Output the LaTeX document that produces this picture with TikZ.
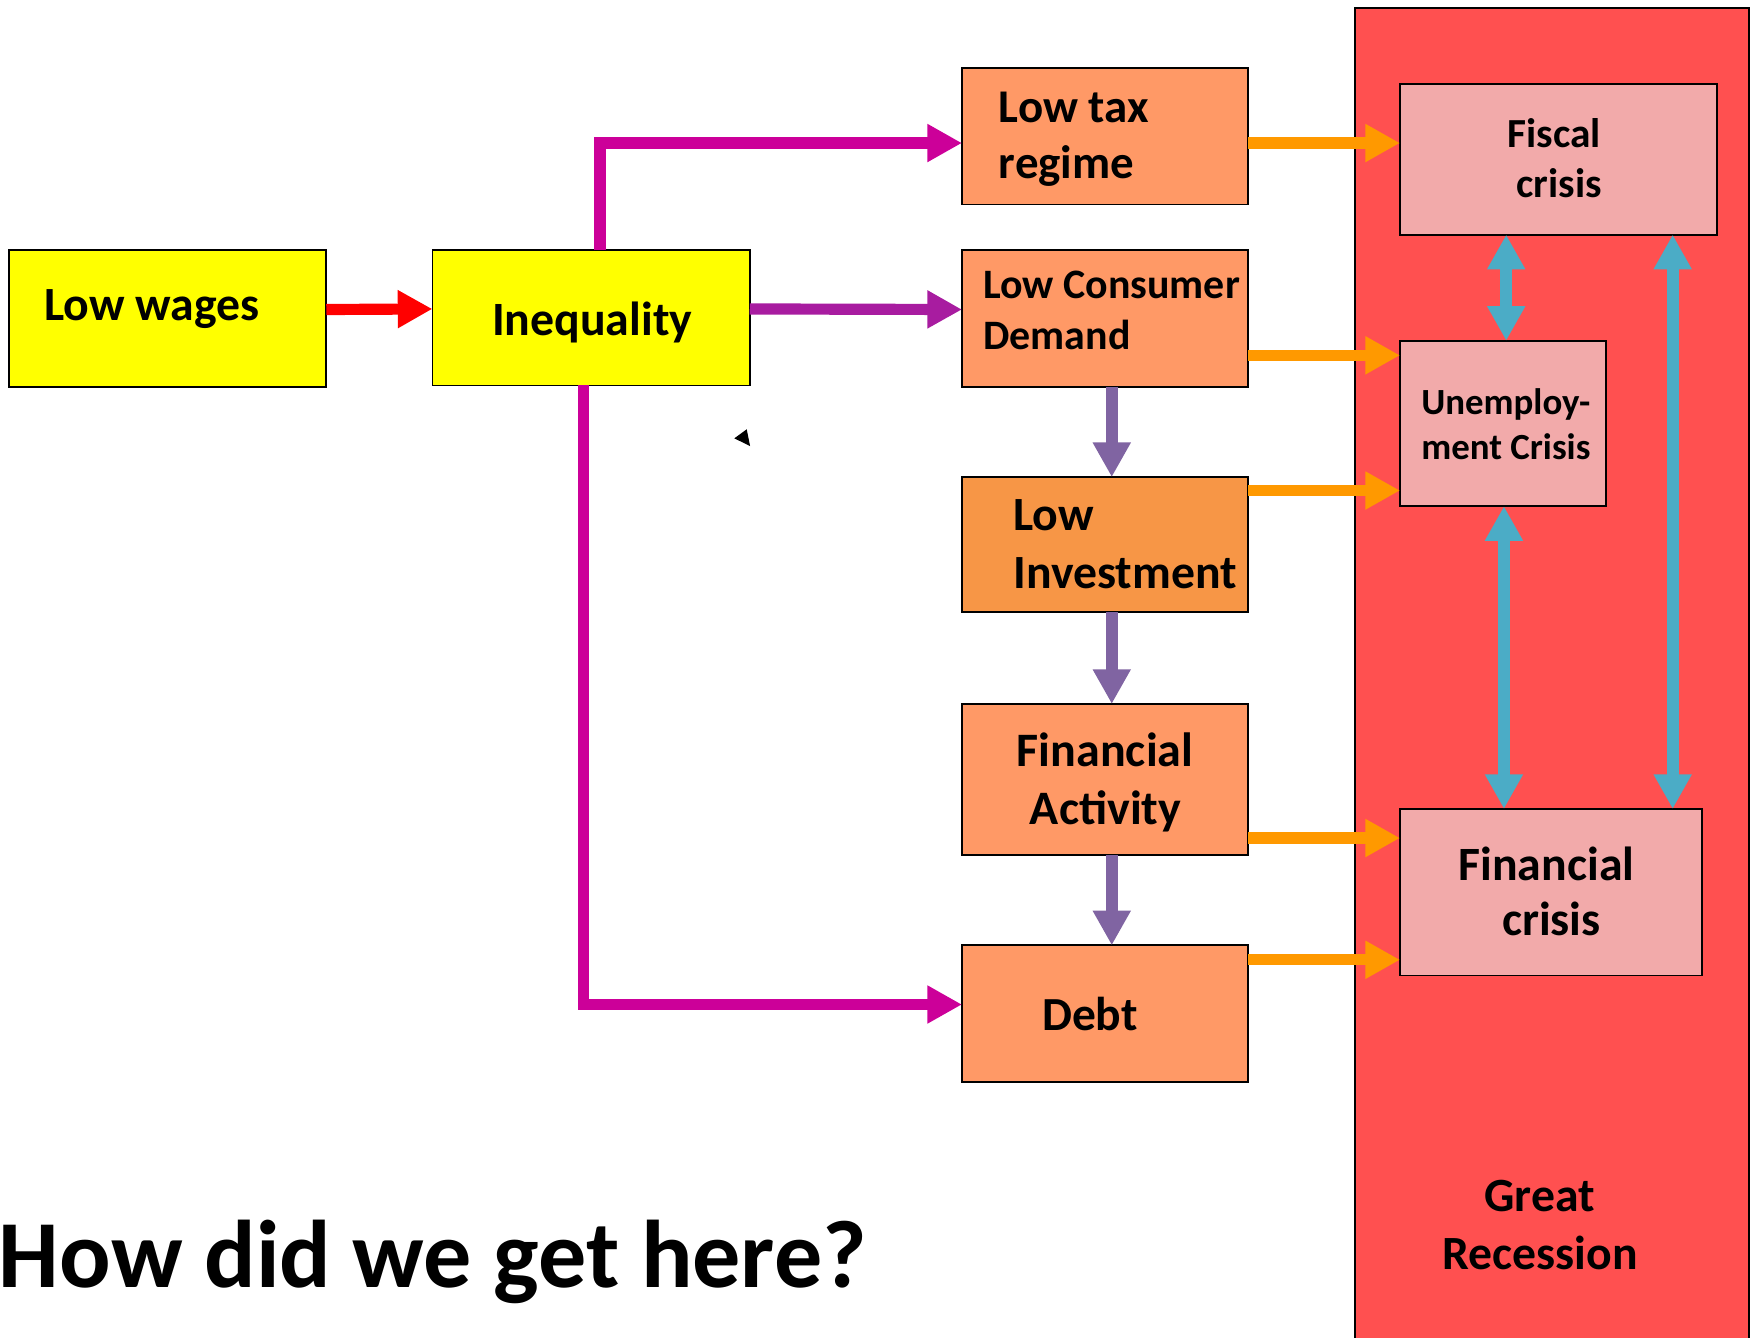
\documentclass[tikz,border=0pt]{standalone}
\usepackage{fontspec}
\setmainfont{Carlito}
\usetikzlibrary{arrows.meta}
\definecolor{yel}{HTML}{FFFF00}
\definecolor{orbox}{HTML}{FF9966}
\definecolor{orboxd}{HTML}{F79646}
\definecolor{grred}{HTML}{FF5050}
\definecolor{pinkbox}{HTML}{F2AAAA}
\definecolor{arrred}{HTML}{FF0000}
\definecolor{arrmag}{HTML}{CC0099}
\definecolor{arrpur}{HTML}{A81CA0}
\definecolor{arrora}{HTML}{FF9900}
\definecolor{arrvio}{HTML}{8064A2}
\definecolor{arrblu}{HTML}{4BACC6}
\begin{document}
\begin{tikzpicture}[x=1pt,y=-1pt,
  boxnode/.style={rectangle,draw=black,line width=1.6pt,inner sep=0pt,outer sep=0pt},
  txt/.style={inner sep=0pt,outer sep=0pt,font=\bfseries\fontsize{#1}{#1}\selectfont},
  arr/.style={line width=10pt,draw=#1,-{Triangle[length=31pt,width=32pt]}},
  darr/.style={line width=11pt,draw=#1,{Triangle[length=31pt,width=32pt]}-{Triangle[length=31pt,width=32pt]}}
]
\useasboundingbox (0,0) rectangle (1568,1197);
\fill[white] (0,0) rectangle (1568,1197);

% big red region
\node[boxnode,fill=grred,minimum width=352pt,minimum height=1194pt] (gr) at (1389,604) {};

% boxes
\node[boxnode,fill=yel,minimum width=284pt,minimum height=122pt] (lw) at (150,285) {};
\node[boxnode,fill=yel,minimum width=284pt,minimum height=121pt] (ineq) at (529,284.5) {};
\node[boxnode,fill=orbox,minimum width=256pt,minimum height=122pt] (tax) at (989,122) {};
\node[boxnode,fill=orbox,minimum width=256pt,minimum height=122pt] (lcd) at (989,285) {};
\node[boxnode,fill=orboxd,minimum width=256pt,minimum height=121pt] (li) at (989,487.5) {};
\node[boxnode,fill=orbox,minimum width=256pt,minimum height=135pt] (fa) at (989,697.5) {};
\node[boxnode,fill=orbox,minimum width=256pt,minimum height=122pt] (debt) at (989,907) {};
\node[boxnode,fill=pinkbox,minimum width=284pt,minimum height=135pt] (fc) at (1395,142.5) {};
\node[boxnode,fill=pinkbox,minimum width=184pt,minimum height=148pt] (uc) at (1345,379) {};
\node[boxnode,fill=pinkbox,minimum width=270pt,minimum height=149pt] (finc) at (1388,798.5) {};

% texts
\node[txt=42.7,anchor=base] (lwt) at (136,287) {Low wages};
\node[txt=42.8,anchor=base] (ineqt) at (530,300) {Inequality};
\node[txt=42,anchor=base west] (taxt1) at (894,110) {Low tax};
\node[txt=42,anchor=base west] (taxt2) at (894,159.6) {regime};
\node[txt=37.5,anchor=base west] (lcdt1) at (880,267) {Low Consumer};
\node[txt=37.5,anchor=base west] (lcdt2) at (880,313) {Demand};
\node[txt=42.7,anchor=base west] (lit1) at (907,475) {Low};
\node[txt=42.7,anchor=base west] (lit2) at (907,527) {Investment};
\node[txt=43,anchor=base] (fat1) at (989,686) {Financial};
\node[txt=43,anchor=base] (fat2) at (989.5,738) {Activity};
\node[txt=42.5,anchor=base] (debtt) at (975.5,922) {Debt};
\node[txt=37,anchor=base] (fct1) at (1391,132) {Fiscal};
\node[txt=37,anchor=base] (fct2) at (1395.5,177) {crisis};
\node[txt=33,anchor=base west] (uct1) at (1272,370.7) {Unemploy-};
\node[txt=33,anchor=base west] (uct2) at (1272,410.8) {ment Crisis};
\node[txt=42.8,anchor=base] (finct1) at (1384,787.6) {Financial};
\node[txt=42.8,anchor=base] (finct2) at (1388.5,836.8) {crisis};
\node[txt=42.7,anchor=base] (grt1) at (1378,1084) {Great};
\node[txt=42.7,anchor=base] (grt2) at (1378.5,1136) {Recession};
\node[txt=86,anchor=base] (title) at (387.5,1152) {How did we get here?};

% connectors
\draw[arr=arrred] ([yshift=8pt]lw.east) -- ([yshift=8pt]ineq.west);
\draw[arr=arrmag,line join=miter] ([xshift=8pt]ineq.north) |- ([yshift=-6pt]tax.west);
\draw[arr=arrpur] ([yshift=8pt]ineq.east) -- ([yshift=8pt]lcd.west);
\draw[arr=arrmag,line join=miter] ([xshift=-7pt]ineq.south) |- ([yshift=8pt]debt.west);

\draw[arr=arrora] ([yshift=-6pt]tax.east) -- ([yshift=-6pt]tax.east -| fc.west);
\draw[arr=arrora] ([yshift=-33pt]lcd.east) -- ([yshift=-33pt]lcd.east -| uc.west);
\draw[arr=arrora] ([yshift=48.5pt]li.east) -- ([yshift=48.5pt]li.east -| uc.west);
\draw[arr=arrora] ([yshift=-52.5pt]fa.east) -- ([yshift=-52.5pt]fa.east -| finc.west);
\draw[arr=arrora] ([yshift=48pt]debt.east) -- ([yshift=48pt]debt.east -| finc.west);

\draw[arr=arrvio,line width=11pt] ([xshift=6pt]lcd.south) -- ([xshift=6pt]li.north);
\draw[arr=arrvio,line width=11pt] ([xshift=6pt]li.south) -- ([xshift=6pt]fa.north);
\draw[arr=arrvio,line width=11pt] ([xshift=6pt]fa.south) -- ([xshift=6pt]debt.north);

\draw[darr=arrblu] ([xshift=-47pt]fc.south) -- ([xshift=-47pt]fc.south |- uc.north);
\draw[darr=arrblu] ([xshift=1pt]uc.south) -- ([xshift=1pt]uc.south |- finc.north);
\draw[darr=arrblu] ([xshift=102pt]fc.south) -- ([xshift=102pt]fc.south |- finc.north);

% small black triangle
\fill[black] (657.2,392.3) -- (668.3,384.2) -- (671.3,399.2) -- cycle;
\end{tikzpicture}
\end{document}
